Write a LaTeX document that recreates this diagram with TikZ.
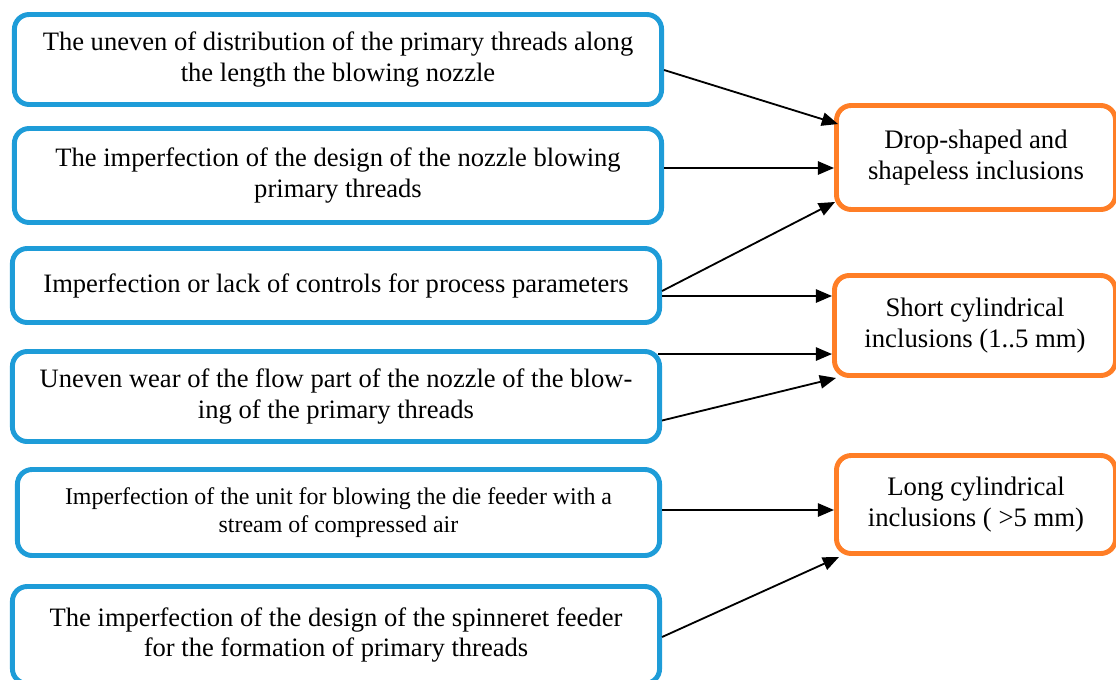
\documentclass[tikz,border=0pt]{standalone}
\usepackage{fontspec}
\setmainfont{Liberation Serif}
\usetikzlibrary{calc}
\usetikzlibrary{arrows.meta}

\definecolor{causeblue}{RGB}{30,156,216}
\definecolor{effectorange}{RGB}{255,126,38}

\tikzset{
  box/.style={draw, rounded corners=10.5pt, line width=3.5pt, align=center, inner sep=0pt},
  cause/.style={box, draw=causeblue, font=\fontsize{18.9}{21.5}\selectfont},
  effect/.style={box, draw=effectorange, font=\fontsize{19}{21.5}\selectfont},
  link/.style={line width=1.3pt, -{Triangle[length=11.5pt,width=9.5pt]}}
}

\begin{document}
\begin{tikzpicture}[x=0.025cm, y=-0.025cm]
  % Boundary
  \useasboundingbox (0,0) rectangle (1116,679);
  % Causes
  \node[cause, minimum width=16.175cm, minimum height=2.25cm] (c1) at (338,59.5)
    {The uneven of distribution of the primary threads along\\the length the blowing nozzle};
  \node[cause, minimum width=16.175cm, minimum height=2.35cm] (c2) at (338,175.5)
    {The imperfection of the design of the nozzle blowing\\primary threads};
  \node[cause, minimum width=16.175cm, minimum height=1.85cm] (c3) at (336,285.5)
    {Imperfection or lack of controls for process parameters};
  \node[cause, minimum width=16.175cm, minimum height=2.25cm] (c4) at (336,396.5)
    {Uneven wear of the flow part of the nozzle of the blow-\\ing of the primary threads};
  \node[cause, minimum width=16.05cm, minimum height=2.15cm, font=\fontsize{17}{20}\selectfont] (c5) at (338.5,512.5)
    {Imperfection of the unit for blowing the die feeder with a\\stream of compressed air};
  \node[cause, minimum width=16.175cm, minimum height=2.425cm] (c6) at (336,635)
    {The imperfection of the design of the spinneret feeder\\for the formation of primary threads};
  % Inclusions
  \node[effect, minimum width=6.975cm, minimum height=2.6cm] (e1) at (976,157.5)
    {Drop-shaped and\\shapeless inclusions};
  \node[effect, minimum width=7.025cm, minimum height=2.5cm] (e2) at (975,325.5)
    {Short cylindrical\\inclusions (1..5 mm)};
  \node[effect, minimum width=6.975cm, minimum height=2.45cm] (e3) at (976,504.5)
    {Long cylindrical\\inclusions ( >5 mm)};
  % Links
  \draw[link] ($(c1.east)+(0,10.5)$) -- ($(e1.north west)+(4,21)$);
  \coordinate (s2) at ($(c2.east)+(0,-7.5)$);
  \draw[link] (s2) -- (e1.west |- s2);
  \draw[link] ($(c3.east)+(0,5.5)$) -- ($(e1.south west)+(1,-10)$);
  \coordinate (s4) at ($(c3.east)+(0,10.5)$);
  \draw[link] (s4) -- (e2.west |- s4);
  \coordinate (s5) at ($(c4.north east)+(-4,5)$);
  \draw[link] (s5) -- (e2.west |- s5);
  \draw[link] ($(c4.east)+(0,24)$) -- ($(e2.south west)+(4,0)$);
  \coordinate (s7) at ($(c5.east)+(0,-2.5)$);
  \draw[link] (s7) -- (e3.west |- s7);
  \draw[link] ($(c6.east)+(0,2)$) -- ($(e3.south west)+(5,1)$);
\end{tikzpicture}
\end{document}
